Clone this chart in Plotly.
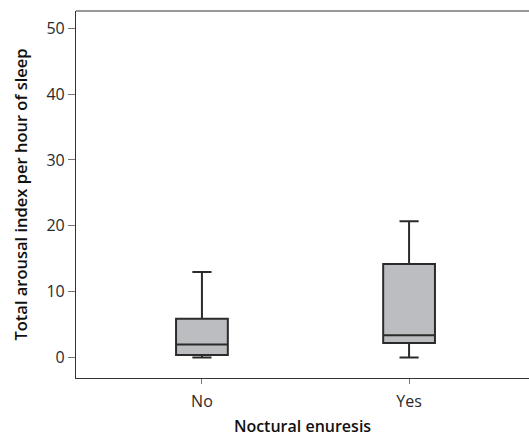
import plotly.graph_objects as go

categories = ["No", "Yes"]
lower_whisker = [0.0, 0.0]
q1_values = [0.4, 2.2]
median_values = [2.0, 3.4]
q3_values = [5.9, 14.2]
upper_whisker = [13.0, 20.7]
y_ticks = [0, 10, 20, 30, 40, 50]

fig = go.Figure()
fig.add_trace(go.Box(
    x=categories,
    lowerfence=lower_whisker,
    q1=q1_values,
    median=median_values,
    q3=q3_values,
    upperfence=upper_whisker,
    fillcolor="#bcbdc1",
    line=dict(color="#2b2b2b", width=2),
    width=0.25,
    whiskerwidth=0.37,
    boxpoints=False,
    hoverinfo="skip",
))

fig.update_layout(
    width=529, height=437,
    margin=dict(l=76, r=0, t=11, b=59),
    plot_bgcolor="white", paper_bgcolor="white",
    showlegend=False,
    font=dict(family="Open Sans", size=16, color="#2a2a2a"),
    shapes=[dict(type="line", xref="paper", yref="paper", x0=0, x1=1, y0=1, y1=1,
                 line=dict(color="#333", width=1.2))],
)
fig.update_xaxes(
    type="category",
    range=[-0.608, 1.579],
    showline=True, linecolor="#333", linewidth=1.2, mirror=False,
    ticks="outside", ticklen=5, tickcolor="#777",
    showgrid=False, zeroline=False, automargin=False,
    ticklabelstandoff=4,
    title=dict(text="Noctural enuresis", font=dict(size=16, weight=600, color="#111"), standoff=17),
    tickfont=dict(size=16),
)
fig.update_yaxes(
    range=[-3.1, 52.6],
    tickvals=y_ticks,
    showline=True, linecolor="#333", linewidth=1.2, mirror=False,
    ticks="outside", ticklen=7, tickcolor="#777",
    showgrid=False, zeroline=False, automargin=False,
    title=dict(text="Total arousal index per hour of sleep", font=dict(size=16.5, weight=600, color="#111"), standoff=14),
    tickfont=dict(size=16),
)

fig.write_html(
    "out.html", config={"displayModeBar": False},
    post_script=("document.documentElement.style.margin='0px';"
                 "document.body.style.margin='0px';"
                 "document.documentElement.style.overflow='hidden';"
                 "document.body.style.overflow='hidden';"),
)
